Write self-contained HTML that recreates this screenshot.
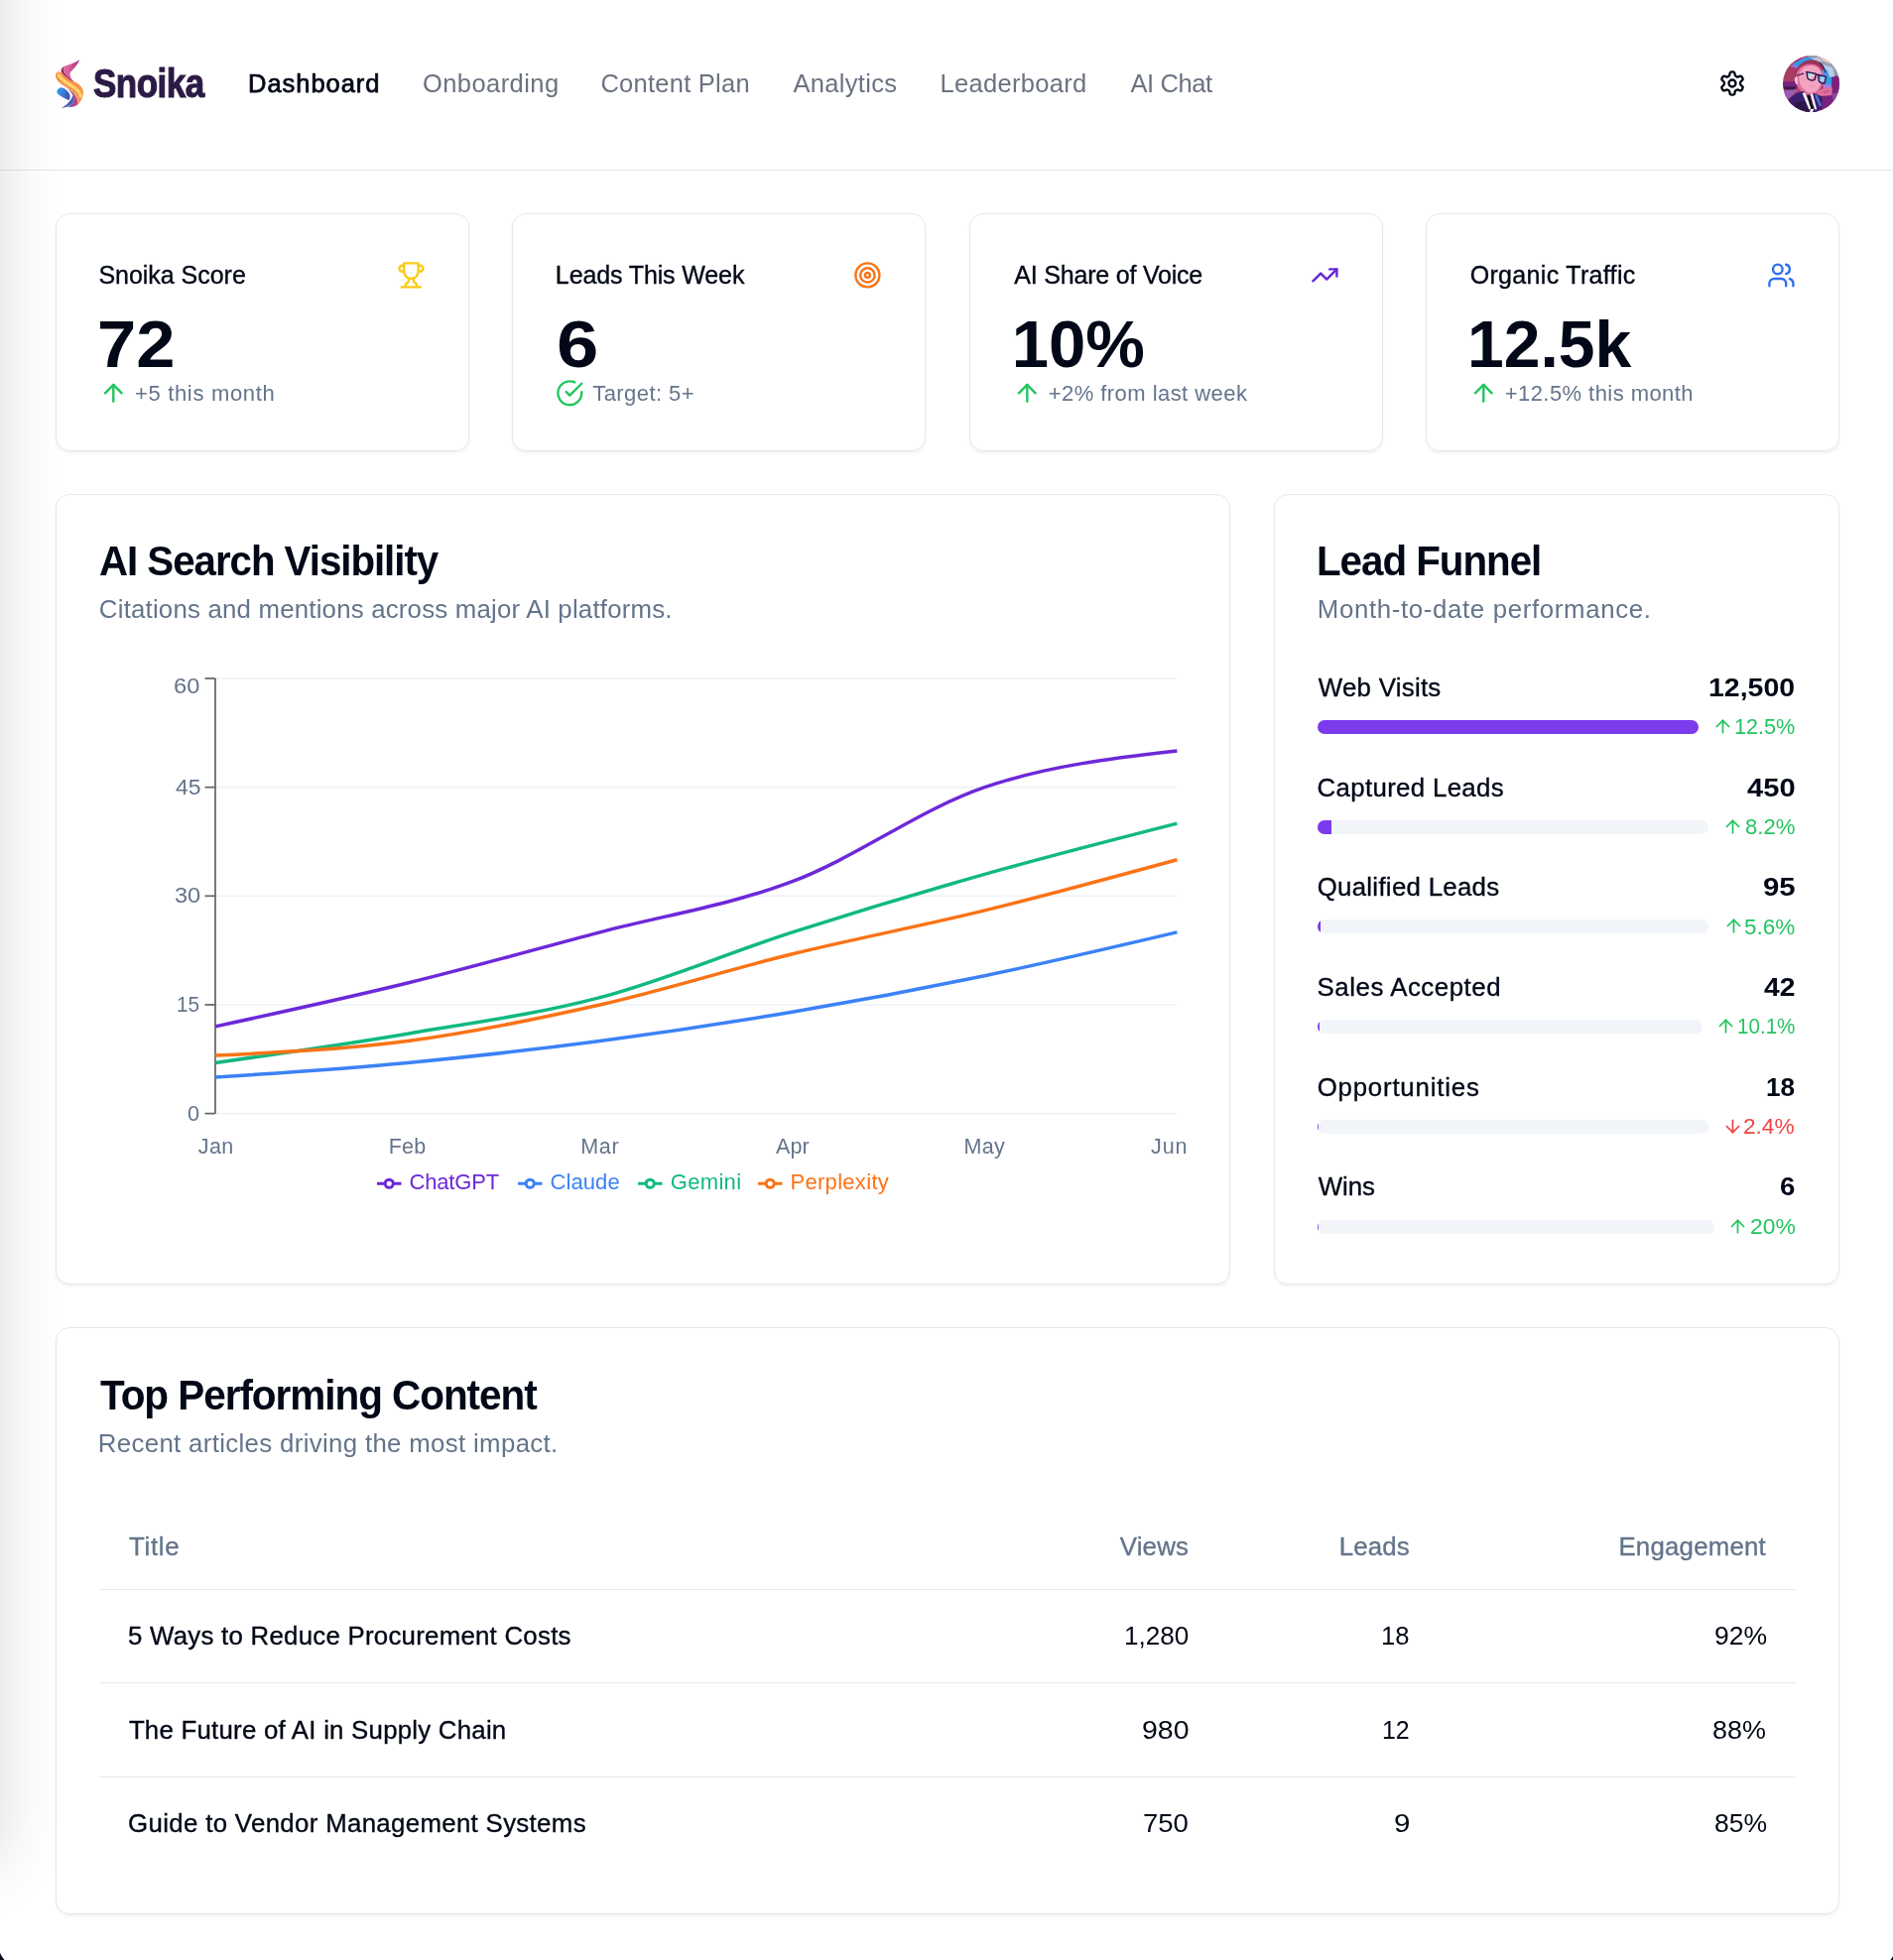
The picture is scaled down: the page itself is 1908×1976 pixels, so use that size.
<!DOCTYPE html>
<html lang="en"><head><meta charset="utf-8"><title>Snoika Dashboard</title>
<style>
*{box-sizing:border-box;margin:0;padding:0}
html,body{width:1908px;height:1976px;overflow:hidden;background:#fff}
body{position:relative;font-family:"Liberation Sans",sans-serif;color:#020817;-webkit-font-smoothing:antialiased}
.t{position:absolute;white-space:nowrap;line-height:1;display:block}
.ic{position:absolute;display:block;overflow:visible}
.abs{position:absolute}
.edge{position:absolute;left:-80px;top:-120px;width:80px;height:1998px;box-shadow:0 0 64px rgba(0,0,0,.145);z-index:5;pointer-events:none}
.corner{position:absolute;z-index:6;display:block}
header{position:absolute;left:0;top:0;width:1908px;height:172px;border-bottom:1px solid #e2e8f0;background:transparent;will-change:transform}
main{position:absolute;left:0;top:172px;width:1908px;height:1804px;will-change:transform}
.card{position:absolute;background:#fff;border:1px solid #e2e8f0;border-radius:14px;box-shadow:0 2px 3px rgba(0,0,0,.05)}
.bar{position:absolute;height:14px;border-radius:7px;background:#f1f5f9;overflow:hidden}
.bar i{position:absolute;left:0;top:0;height:14px;background:#7c3aed;display:block}
.hr{position:absolute;height:1px;background:#e2e8f0}
.avatar{position:absolute;border-radius:50%;overflow:hidden}
body.fit .card,body.fit header{border-color:transparent;box-shadow:none}
body.fit svg,body.fit .bar,body.fit .hr,body.fit .edge,body.fit .avatar,body.fit .corner{visibility:hidden}
</style></head><body>
<div class="edge"></div>
<svg class="corner" style="left:0;top:1966px" width="8" height="10" viewBox="0 0 8 10"><path d="M0,2.6C1.2,5.6 2.6,8 4.6,10L0,10Z" fill="#0a0e1c"/></svg><svg class="corner" style="left:1900px;top:1968px" width="8" height="8" viewBox="0 0 8 8"><path d="M8,3.8C7.4,5.6 6.6,6.9 5.4,8L8,8Z" fill="#0a0e1c"/></svg>
<header><svg class="ic" id="logo" style="left:46px;top:52px" width="60" height="64" viewBox="0 0 183.8 196">
<defs>
<linearGradient id="lgp" x1="0" y1="0" x2="1" y2="0"><stop offset="0" stop-color="#e677ab"/><stop offset=".45" stop-color="#d65c9a"/><stop offset="1" stop-color="#a8357a"/></linearGradient>
<linearGradient id="lgb" x1="0" y1="0" x2="1" y2="0.3"><stop offset="0" stop-color="#1fa4ee"/><stop offset=".45" stop-color="#3b84e0"/><stop offset="1" stop-color="#3f55b0"/></linearGradient>
<linearGradient id="lgm" x1="0" y1="0" x2="1" y2="0"><stop offset="0" stop-color="#7d52a6"/><stop offset="1" stop-color="#c2407f"/></linearGradient>
</defs>
<!-- orange ribbon -->
<path fill="#f8944b" d="M46,57C36,60 29,68 31,77C34,93 50,101 68,113C84,124 95,133 99,147C101,154 101,159 100,163C111,152 118,136 116,122C114,108 101,99 87,92C72,84 55,74 49,64C47,61 46,59 46,57Z"/>
<path fill="#fde3cf" d="M46,57C40,59 36,62 34,66C38,64 43,64 48,66C47,62 46,59 46,57Z"/>
<path fill="none" stroke="#fdd56e" stroke-width="10" stroke-linecap="round" d="M41,73C48,88 68,98 84,108C97,116 106,125 108,137"/>
<!-- magenta stripe + blue tail -->
<path fill="url(#lgm)" d="M67,113C82,123 93,133 98,147C100,155 100,160 100,163C92,169 82,172 68,172.5L79,164C88,156 89,146 84,135C80,127 74,120 67,113Z"/>
<path fill="#4460b8" d="M84,135C89,146 88,156 79,164C71,170 60,173 49,174.5C60,168 71,159 78,148C81,143 83,139 84,135Z"/>
<!-- pink flame -->
<path fill="url(#lgp)" d="M105,25C99,40 88,52 76,64C73,72 78,84 88,94C74,86 56,75 49,64C46,57 49,50 56,46C70,40 90,36 105,25Z"/>
<path fill="#7a2350" d="M56,46C50,50 47,57 50,64C57,75 74,86 88,94C74,84 58,72 55,62C53,56 54,50 56,46Z"/>
<!-- blue blob -->
<path fill="url(#lgb)" d="M48,111C58,112 69,121 74,132C77,139 75,146 72,150C60,146 44,138 36,129C32,122 38,113 48,111Z"/>
</svg>
<span class="t" id="logo_t" style="left:93.91px;top:63.94px;font-size:40px;color:#2b1a45;font-weight:700;letter-spacing:-0.600px;-webkit-text-stroke:1.1px #2b1a45;transform:scaleX(0.875);transform-origin:0 0;">Snoika</span><nav><span class="t" id="nav1" style="left:250.09px;top:72.01px;font-size:25.5px;color:#020817;letter-spacing:0.955px;-webkit-text-stroke:0.75px #020817;">Dashboard</span><span class="t" id="nav2" style="left:425.91px;top:72.01px;font-size:25.5px;color:#6b7280;letter-spacing:0.441px;">Onboarding</span><span class="t" id="nav3" style="left:605.46px;top:72.01px;font-size:25.5px;color:#6b7280;letter-spacing:0.247px;">Content Plan</span><span class="t" id="nav4" style="left:799.43px;top:72.01px;font-size:25.5px;color:#6b7280;letter-spacing:0.328px;">Analytics</span><span class="t" id="nav5" style="left:947.38px;top:72.01px;font-size:25.5px;color:#6b7280;letter-spacing:0.323px;">Leaderboard</span><span class="t" id="nav6" style="left:1139.43px;top:72.01px;font-size:25.5px;color:#6b7280;letter-spacing:-0.389px;">AI Chat</span></nav><svg class="ic" style="left:1732.00px;top:70.00px" width="28" height="28" viewBox="0 0 24 24" fill="none" stroke="#020817" stroke-width="2" stroke-linecap="round" stroke-linejoin="round"><path d="M12.22 2h-.44a2 2 0 0 0-2 2v.18a2 2 0 0 1-1 1.73l-.43.25a2 2 0 0 1-2 0l-.15-.08a2 2 0 0 0-2.73.73l-.22.38a2 2 0 0 0 .73 2.73l.15.1a2 2 0 0 1 1 1.72v.51a2 2 0 0 1-1 1.74l-.15.09a2 2 0 0 0-.73 2.73l.22.38a2 2 0 0 0 2.73.73l.15-.08a2 2 0 0 1 2 0l.43.25a2 2 0 0 1 1 1.73V20a2 2 0 0 0 2 2h.44a2 2 0 0 0 2-2v-.18a2 2 0 0 1 1-1.73l.43-.25a2 2 0 0 1 2 0l.15.08a2 2 0 0 0 2.73-.73l.22-.39a2 2 0 0 0-.73-2.73l-.15-.08a2 2 0 0 1-1-1.74v-.5a2 2 0 0 1 1-1.74l.15-.09a2 2 0 0 0 .73-2.73l-.22-.38a2 2 0 0 0-2.73-.73l-.15.08a2 2 0 0 1-2 0l-.43-.25a2 2 0 0 1-1-1.73V4a2 2 0 0 0-2-2z"/><circle cx="12" cy="12" r="3"/></svg><svg class="ic" id="avatar" style="left:1797px;top:56px" width="57" height="57" viewBox="0 0 160 160">
<defs><clipPath id="avc"><circle cx="80" cy="80" r="80"/></clipPath>
<linearGradient id="avl" x1="0" y1="0" x2="1" y2="1"><stop offset="0" stop-color="#3b8fe8"/><stop offset=".35" stop-color="#bfe9e0"/><stop offset=".55" stop-color="#f3c3cf"/><stop offset=".8" stop-color="#e58bb5"/><stop offset="1" stop-color="#c9e8f0"/></linearGradient>
<linearGradient id="avr" x1="0" y1="0" x2="1" y2="1"><stop offset="0" stop-color="#2f7fe6"/><stop offset=".5" stop-color="#9fd4f5"/><stop offset="1" stop-color="#e889b8"/></linearGradient>
</defs>
<g clip-path="url(#avc)">
<rect width="160" height="160" fill="#a83c64"/>
<!-- sky -->
<path fill="#8f74d8" d="M20,30L60,5L80,10L50,40Z"/>
<path fill="#2c9be6" d="M30,22L70,4L100,8L96,22L60,20L40,32Z"/>
<path fill="#949fb6" d="M62,0L150,0L160,62L120,40L96,16Z"/>
<path fill="#b9c6d8" d="M82,8L104,4L112,18L90,22Z"/>
<path fill="#f8cdb8" d="M104,2L128,10L134,24L112,14Z"/>
<path fill="#b4cfe8" d="M110,24L140,34L152,76L118,60Z"/>
<path fill="#4f8fec" d="M104,28L126,42L140,84L112,74L104,50Z"/>
<path fill="#2fa0e4" d="M118,60L140,62L138,88L120,84Z"/>
<path fill="#a87be0" d="M112,78L140,84L140,104L116,100Z"/>
<!-- right purple blocks -->
<path fill="#7a237e" d="M138,60L160,58L160,112L138,108Z"/>
<path fill="#7a237e" d="M100,112L152,112L146,150L104,160Z"/>
<path fill="#8b4aa0" d="M140,108L160,104L152,132L142,128Z"/>
<!-- left blocks -->
<path fill="#7a237e" d="M0,74L42,72L46,92L0,92Z"/>
<path fill="#3a1a4c" d="M4,88L36,88L36,97L4,97Z"/>
<path fill="#9b5cb4" d="M2,98L44,96L30,124L6,122Z"/>
<path fill="#a83c64" d="M14,124L40,100L50,104L22,140Z"/>
<!-- hair -->
<path fill="#9a3458" d="M34,62C34,30 58,12 82,12C100,12 112,22 118,36L108,46C100,32 88,24 74,26C56,30 44,46 42,66Z"/>
<!-- face -->
<path fill="#e06f9f" d="M36,66C36,40 56,24 78,24C100,24 114,40 114,62C114,90 100,110 80,112C58,112 36,94 36,66Z"/>
<path fill="#f2a3c0" d="M46,60C48,40 62,28 80,28C98,28 110,42 110,62C110,86 98,104 80,106C64,104 44,88 46,60Z"/>
<path fill="#f7c0d2" d="M33,66C33,60 40,58 42,64L42,82C36,82 33,74 33,66Z"/>
<!-- hand / ear right -->
<path fill="#e06f9f" d="M96,104C110,92 126,88 140,92L138,112L100,116Z"/>
<path fill="#c8568a" d="M112,104L128,96L132,100L118,108Z"/>
<!-- suit -->
<path fill="#3b2072" d="M14,128C30,106 52,100 60,102L96,160L30,160Z"/>
<path fill="#2c1848" d="M30,134L60,128L86,160L40,160Z"/>
<path fill="#3b2072" d="M84,106L112,116L110,150L96,160L86,160Z"/>
<path fill="#4f78d8" d="M90,112L96,110L110,142L104,144Z"/>
<!-- shirt + tie -->
<path fill="#ffffff" d="M55,106L63,105L81,150L74,153Z"/>
<path fill="#15101c" d="M69,113L77,110L88,152L80,154Z"/>
<path fill="#c9a6e8" d="M77,110L81,108L91,142L87,144Z"/>
<path fill="#ffffff" d="M79,108L84,108L96,152L90,152Z"/>
<path fill="#ffffff" d="M78,152L88,150L84,160L76,160Z"/>
<!-- glasses -->
<path fill="none" stroke="#2a1850" stroke-width="3.2" stroke-linecap="round" d="M40,56C46,56 52,52 58,51"/>
<path fill="url(#avl)" stroke="#2a1850" stroke-width="4" stroke-linejoin="round" d="M67,46L94,52L90,68C84,72 74,70 70,64Z"/>
<path fill="url(#avr)" stroke="#2a1850" stroke-width="4" stroke-linejoin="round" d="M100,54L122,60L118,78C112,80 104,76 102,72Z"/>
<path fill="none" stroke="#2a1850" stroke-width="3.5" d="M94,53L100,55"/>
<path fill="none" stroke="#2a1850" stroke-width="3" d="M104,20C112,26 118,36 120,48"/>
<!-- mouth dots -->
<rect x="76" y="84" width="5" height="2.5" fill="#e06f9f"/><rect x="86" y="86" width="3" height="2.5" fill="#e06f9f"/>
</g></svg>
</header>
<main style="top:0;height:1976px;pointer-events:none"><article class="card" id="c1" style="left:56px;top:215px;width:417px;height:240px"><span class="t" id="c1_t" style="left:42.46px;top:48.94px;font-size:25.0px;color:#020817;letter-spacing:-0.031px;-webkit-text-stroke:0.35px #020817;">Snoika Score</span><svg class="ic" style="left:343.10px;top:46.80px" width="28.8" height="28.8" viewBox="0 0 24 24" fill="none" stroke="#facc15" stroke-width="2" stroke-linecap="round" stroke-linejoin="round"><path d="M6 9H4.5a2.5 2.5 0 0 1 0-5H6"/><path d="M18 9h1.5a2.5 2.5 0 0 0 0-5H18"/><path d="M4 22h16"/><path d="M10 14.66V17c0 .55-.47.98-.97 1.21C7.85 18.75 7 20.24 7 22"/><path d="M14 14.66V17c0 .55.47.98.97 1.21C16.15 18.75 17 20.24 17 22"/><path d="M18 2H6v7a6 6 0 0 0 12 0V2Z"/></svg><span class="t" id="c1_v" style="left:41.36px;top:97.48px;font-size:67px;color:#020817;font-weight:700;transform:scaleX(1.053);transform-origin:0 0;">72</span><svg class="ic" style="left:43.10px;top:165.80px" width="28.6" height="28.6" viewBox="0 0 24 24" fill="none" stroke="#22c55e" stroke-width="2" stroke-linecap="round" stroke-linejoin="round"><path d="m5 12 7-7 7 7"/><path d="M12 19V5"/></svg><span class="t" id="c1_d" style="left:78.93px;top:170.38px;font-size:22px;color:#64748b;letter-spacing:0.678px;">+5 this month</span></article>
<article class="card" id="c2" style="left:516px;top:215px;width:417px;height:240px"><span class="t" id="c2_t" style="left:42.86px;top:48.94px;font-size:25.0px;color:#020817;letter-spacing:-0.121px;-webkit-text-stroke:0.35px #020817;">Leads This Week</span><svg class="ic" style="left:343.10px;top:46.80px" width="28.8" height="28.8" viewBox="0 0 24 24" fill="none" stroke="#f97316" stroke-width="2" stroke-linecap="round" stroke-linejoin="round"><circle cx="12" cy="12" r="10"/><circle cx="12" cy="12" r="6"/><circle cx="12" cy="12" r="2"/></svg><span class="t" id="c2_v" style="left:43.65px;top:97.48px;font-size:67px;color:#020817;font-weight:700;transform:scaleX(1.135);transform-origin:0 0;">6</span><svg class="ic" style="left:43.10px;top:165.80px" width="28.6" height="28.6" viewBox="0 0 24 24" fill="none" stroke="#22c55e" stroke-width="2" stroke-linecap="round" stroke-linejoin="round"><path d="M22 11.08V12a10 10 0 1 1-5.93-9.14"/><polyline points="22 4 12 14.01 9 11.01"/></svg><span class="t" id="c2_d" style="left:80.23px;top:170.38px;font-size:22px;color:#64748b;letter-spacing:0.432px;">Target: 5+</span></article>
<article class="card" id="c3" style="left:977px;top:215px;width:417px;height:240px"><span class="t" id="c3_t" style="left:44.33px;top:48.94px;font-size:25.0px;color:#020817;letter-spacing:-0.206px;-webkit-text-stroke:0.35px #020817;">AI Share of Voice</span><svg class="ic" style="left:343.10px;top:46.80px" width="28.8" height="28.8" viewBox="0 0 24 24" fill="none" stroke="#6525d9" stroke-width="2" stroke-linecap="round" stroke-linejoin="round"><polyline points="22 7 13.5 15.5 8.5 10.5 2 17"/><polyline points="16 7 22 7 22 13"/></svg><span class="t" id="c3_v" style="left:41.77px;top:97.48px;font-size:67px;color:#020817;font-weight:700;">10%</span><svg class="ic" style="left:43.10px;top:165.80px" width="28.6" height="28.6" viewBox="0 0 24 24" fill="none" stroke="#22c55e" stroke-width="2" stroke-linecap="round" stroke-linejoin="round"><path d="m5 12 7-7 7 7"/><path d="M12 19V5"/></svg><span class="t" id="c3_d" style="left:78.71px;top:170.38px;font-size:22px;color:#64748b;letter-spacing:0.451px;">+2% from last week</span></article>
<article class="card" id="c4" style="left:1437px;top:215px;width:417px;height:240px"><span class="t" id="c4_t" style="left:43.73px;top:48.94px;font-size:25.0px;color:#020817;letter-spacing:0.317px;-webkit-text-stroke:0.35px #020817;">Organic Traffic</span><svg class="ic" style="left:343.10px;top:46.80px" width="28.8" height="28.8" viewBox="0 0 24 24" fill="none" stroke="#2f6ff2" stroke-width="2" stroke-linecap="round" stroke-linejoin="round"><path d="M16 21v-2a4 4 0 0 0-4-4H6a4 4 0 0 0-4 4v2"/><circle cx="9" cy="7" r="4"/><path d="M22 21v-2a4 4 0 0 0-3-3.87"/><path d="M16 3.13a4 4 0 0 1 0 7.75"/></svg><span class="t" id="c4_v" style="left:41.02px;top:97.48px;font-size:67px;color:#020817;font-weight:700;transform:scaleX(0.986);transform-origin:0 0;">12.5k</span><svg class="ic" style="left:43.10px;top:165.80px" width="28.6" height="28.6" viewBox="0 0 24 24" fill="none" stroke="#22c55e" stroke-width="2" stroke-linecap="round" stroke-linejoin="round"><path d="m5 12 7-7 7 7"/><path d="M12 19V5"/></svg><span class="t" id="c4_d" style="left:78.71px;top:170.38px;font-size:22px;color:#64748b;letter-spacing:0.438px;">+12.5% this month</span></article>
<section class="card" id="chart" style="left:56px;top:498px;width:1184px;height:797px"><span class="t" id="ch_t" style="left:43.00px;top:45.17px;font-size:42.8px;color:#020817;font-weight:700;letter-spacing:-1.100px;transform:scaleX(0.941);transform-origin:0 0;">AI Search Visibility</span><span class="t" id="ch_s" style="left:42.87px;top:103.06px;font-size:25.8px;color:#64748b;letter-spacing:0.205px;">Citations and mentions across major AI platforms.</span><svg class="ic" style="left:-1px;top:-1px" width="1184" height="796" viewBox="56 498 1184 796" font-family="Liberation Sans, sans-serif"><line x1="217.0" x2="1186.4" y1="1122.60" y2="1122.60" stroke="#eef2f7" stroke-width="1.6"/><line x1="217.0" x2="1186.4" y1="1012.95" y2="1012.95" stroke="#eef2f7" stroke-width="1.6"/><line x1="217.0" x2="1186.4" y1="903.30" y2="903.30" stroke="#eef2f7" stroke-width="1.6"/><line x1="217.0" x2="1186.4" y1="793.65" y2="793.65" stroke="#eef2f7" stroke-width="1.6"/><line x1="217.0" x2="1186.4" y1="684.00" y2="684.00" stroke="#eef2f7" stroke-width="1.6"/><line x1="217.0" x2="217.0" y1="684.00" y2="1122.60" stroke="#666" stroke-width="1.75"/><line x1="206.5" x2="217.0" y1="1122.60" y2="1122.60" stroke="#666" stroke-width="1.75"/><line x1="206.5" x2="217.0" y1="1012.95" y2="1012.95" stroke="#666" stroke-width="1.75"/><line x1="206.5" x2="217.0" y1="903.30" y2="903.30" stroke="#666" stroke-width="1.75"/><line x1="206.5" x2="217.0" y1="793.65" y2="793.65" stroke="#666" stroke-width="1.75"/><line x1="206.5" x2="217.0" y1="684.00" y2="684.00" stroke="#666" stroke-width="1.75"/><path d="M217.00,1034.88C281.63,1020.87,346.25,1006.86,410.88,991.02C475.51,975.18,540.13,956.91,604.76,939.85C669.39,922.79,734.01,913.05,798.64,888.68C863.27,864.31,927.89,815.58,992.52,793.65C1057.15,771.72,1121.77,764.41,1186.40,757.10" fill="none" stroke="#6d28d9" stroke-width="3.5"/><path d="M217.00,1086.05C281.63,1081.79,346.25,1077.52,410.88,1071.43C475.51,1065.34,540.13,1058.03,604.76,1049.50C669.39,1040.97,734.01,1031.22,798.64,1020.26C863.27,1009.29,927.89,997.11,992.52,983.71C1057.15,970.31,1121.77,955.08,1186.40,939.85" fill="none" stroke="#3b82f6" stroke-width="3.5"/><path d="M217.00,1071.43C281.63,1062.29,346.25,1053.15,410.88,1042.19C475.51,1031.22,540.13,1022.70,604.76,1005.64C669.39,988.58,734.01,960.56,798.64,939.85C863.27,919.14,927.89,899.64,992.52,881.37C1057.15,863.09,1121.77,846.65,1186.40,830.20" fill="none" stroke="#10b981" stroke-width="3.5"/><path d="M217.00,1064.12C281.63,1061.07,346.25,1058.03,410.88,1049.50C475.51,1040.97,540.13,1027.57,604.76,1012.95C669.39,998.33,734.01,977.62,798.64,961.78C863.27,945.94,927.89,933.76,992.52,917.92C1057.15,902.08,1121.77,884.42,1186.40,866.75" fill="none" stroke="#f97316" stroke-width="3.5"/></svg><span class="t" id="yt0" style="left:132.27px;top:613.60px;font-size:21.5px;color:#64748b;transform:scaleX(1.009);transform-origin:0 0;">0</span><span class="t" id="yt15" style="left:121.30px;top:503.70px;font-size:21.5px;color:#64748b;transform:scaleX(0.967);transform-origin:0 0;">15</span><span class="t" id="yt30" style="left:118.77px;top:394.00px;font-size:21.5px;color:#64748b;transform:scaleX(1.096);transform-origin:0 0;">30</span><span class="t" id="yt45" style="left:119.57px;top:284.60px;font-size:21.5px;color:#64748b;transform:scaleX(1.068);transform-origin:0 0;">45</span><span class="t" id="yt60" style="left:118.09px;top:183.10px;font-size:21.5px;color:#64748b;transform:scaleX(1.099);transform-origin:0 0;">60</span><span class="t" id="xt0" style="left:142.83px;top:646.80px;font-size:21.5px;color:#64748b;letter-spacing:0.323px;">Jan</span><span class="t" id="xt1" style="left:334.64px;top:646.80px;font-size:21.5px;color:#64748b;letter-spacing:0.215px;">Feb</span><span class="t" id="xt2" style="left:528.18px;top:646.80px;font-size:21.5px;color:#64748b;letter-spacing:0.718px;">Mar</span><span class="t" id="xt3" style="left:724.91px;top:646.80px;font-size:21.5px;color:#64748b;letter-spacing:0.144px;">Apr</span><span class="t" id="xt4" style="left:914.38px;top:646.80px;font-size:21.5px;color:#64748b;letter-spacing:0.430px;">May</span><span class="t" id="xt5" style="left:1103.10px;top:646.80px;font-size:21.5px;color:#64748b;letter-spacing:0.820px;">Jun</span><svg class="ic" style="left:323.10px;top:681.95px" width="24.5" height="24.5" viewBox="0 0 32 32"><path stroke-width="4" fill="none" stroke="#6d28d9" d="M0,16h10.666666666666666A5.333333333333333,5.333333333333333,0,1,1,21.333333333333332,16H32M21.333333333333332,16A5.333333333333333,5.333333333333333,0,1,1,10.666666666666666,16"/></svg><span class="t" id="lg1" style="left:355.50px;top:682.38px;font-size:22px;color:#6d28d9;letter-spacing:-0.170px;">ChatGPT</span><svg class="ic" style="left:465.10px;top:681.95px" width="24.5" height="24.5" viewBox="0 0 32 32"><path stroke-width="4" fill="none" stroke="#3b82f6" d="M0,16h10.666666666666666A5.333333333333333,5.333333333333333,0,1,1,21.333333333333332,16H32M21.333333333333332,16A5.333333333333333,5.333333333333333,0,1,1,10.666666666666666,16"/></svg><span class="t" id="lg2" style="left:497.54px;top:682.38px;font-size:22px;color:#3b82f6;letter-spacing:0.078px;">Claude</span><svg class="ic" style="left:586.10px;top:681.95px" width="24.5" height="24.5" viewBox="0 0 32 32"><path stroke-width="4" fill="none" stroke="#10b981" d="M0,16h10.666666666666666A5.333333333333333,5.333333333333333,0,1,1,21.333333333333332,16H32M21.333333333333332,16A5.333333333333333,5.333333333333333,0,1,1,10.666666666666666,16"/></svg><span class="t" id="lg3" style="left:618.78px;top:682.38px;font-size:22px;color:#10b981;letter-spacing:0.320px;">Gemini</span><svg class="ic" style="left:707.40px;top:681.95px" width="24.5" height="24.5" viewBox="0 0 32 32"><path stroke-width="4" fill="none" stroke="#f97316" d="M0,16h10.666666666666666A5.333333333333333,5.333333333333333,0,1,1,21.333333333333332,16H32M21.333333333333332,16A5.333333333333333,5.333333333333333,0,1,1,10.666666666666666,16"/></svg><span class="t" id="lg4" style="left:739.43px;top:682.38px;font-size:22px;color:#f97316;letter-spacing:0.309px;">Perplexity</span></section>
<section class="card" id="funnel" style="left:1284px;top:498px;width:570px;height:797px"><span class="t" id="fn_t" style="left:42.30px;top:45.17px;font-size:42.8px;color:#020817;font-weight:700;letter-spacing:-1.100px;transform:scaleX(0.943);transform-origin:0 0;">Lead Funnel</span><span class="t" id="fn_s" style="left:42.80px;top:103.06px;font-size:25.8px;color:#64748b;letter-spacing:0.652px;">Month-to-date performance.</span><div class="row"><span class="t" id="f0_l" style="left:43.76px;top:181.96px;font-size:25.8px;color:#020817;letter-spacing:0.290px;-webkit-text-stroke:0.35px #020817;">Web Visits</span><span class="t" id="f0_v" style="left:437.47px;top:181.96px;font-size:25.8px;color:#020817;font-weight:700;transform:scaleX(1.104);transform-origin:0 0;">12,500</span><div class="bar" style="left:43px;top:226.90px;width:383.90px"><i style="width:384px"></i></div><svg class="ic" style="left:441.00px;top:222.80px" width="21" height="21" viewBox="0 0 24 24" fill="none" stroke="#22c55e" stroke-width="2" stroke-linecap="round" stroke-linejoin="round"><path d="m5 12 7-7 7 7"/><path d="M12 19V5"/></svg><span class="t" id="f0_d" style="left:462.94px;top:223.48px;font-size:22px;color:#22c55e;transform:scaleX(0.982);transform-origin:0 0;">12.5%</span></div><div class="row"><span class="t" id="f1_l" style="left:42.59px;top:282.68px;font-size:25.8px;color:#020817;letter-spacing:0.343px;-webkit-text-stroke:0.35px #020817;">Captured Leads</span><span class="t" id="f1_v" style="left:475.98px;top:282.68px;font-size:25.8px;color:#020817;font-weight:700;transform:scaleX(1.129);transform-origin:0 0;">450</span><div class="bar" style="left:43px;top:327.65px;width:393.80px"><i style="width:14.2px"></i></div><svg class="ic" style="left:451.40px;top:323.55px" width="21" height="21" viewBox="0 0 24 24" fill="none" stroke="#22c55e" stroke-width="2" stroke-linecap="round" stroke-linejoin="round"><path d="m5 12 7-7 7 7"/><path d="M12 19V5"/></svg><span class="t" id="f1_d" style="left:474.00px;top:324.20px;font-size:22px;color:#22c55e;transform:scaleX(1.005);transform-origin:0 0;">8.2%</span></div><div class="row"><span class="t" id="f2_l" style="left:42.70px;top:383.40px;font-size:25.8px;color:#020817;letter-spacing:0.298px;-webkit-text-stroke:0.35px #020817;">Qualified Leads</span><span class="t" id="f2_v" style="left:491.68px;top:383.40px;font-size:25.8px;color:#020817;font-weight:700;transform:scaleX(1.139);transform-origin:0 0;">95</span><div class="bar" style="left:43px;top:428.40px;width:394.00px"><i style="width:3px"></i></div><svg class="ic" style="left:451.70px;top:424.30px" width="21" height="21" viewBox="0 0 24 24" fill="none" stroke="#22c55e" stroke-width="2" stroke-linecap="round" stroke-linejoin="round"><path d="m5 12 7-7 7 7"/><path d="M12 19V5"/></svg><span class="t" id="f2_d" style="left:472.70px;top:424.92px;font-size:22px;color:#22c55e;transform:scaleX(1.023);transform-origin:0 0;">5.6%</span></div><div class="row"><span class="t" id="f3_l" style="left:42.60px;top:484.12px;font-size:25.8px;color:#020817;letter-spacing:0.546px;-webkit-text-stroke:0.35px #020817;">Sales Accepted</span><span class="t" id="f3_v" style="left:493.02px;top:484.12px;font-size:25.8px;color:#020817;font-weight:700;transform:scaleX(1.096);transform-origin:0 0;">42</span><div class="bar" style="left:43px;top:529.15px;width:388.10px"><i style="width:1.6px"></i></div><svg class="ic" style="left:444.20px;top:525.05px" width="21" height="21" viewBox="0 0 24 24" fill="none" stroke="#22c55e" stroke-width="2" stroke-linecap="round" stroke-linejoin="round"><path d="m5 12 7-7 7 7"/><path d="M12 19V5"/></svg><span class="t" id="f3_d" style="left:465.89px;top:525.04px;font-size:22px;color:#22c55e;transform:scaleX(0.937);transform-origin:0 0;">10.1%</span></div><div class="row"><span class="t" id="f4_l" style="left:42.66px;top:584.84px;font-size:25.8px;color:#020817;letter-spacing:0.808px;-webkit-text-stroke:0.35px #020817;">Opportunities</span><span class="t" id="f4_v" style="left:495.38px;top:584.84px;font-size:25.8px;color:#020817;font-weight:700;transform:scaleX(1.014);transform-origin:0 0;">18</span><div class="bar" style="left:43px;top:629.90px;width:394.00px"><i style="width:0.8px"></i></div><svg class="ic" style="left:450.70px;top:625.80px" width="21" height="21" viewBox="0 0 24 24" fill="none" stroke="#ef4444" stroke-width="2" stroke-linecap="round" stroke-linejoin="round"><path d="M12 5v14"/><path d="m19 12-7 7-7-7"/></svg><span class="t" id="f4_d" style="left:472.47px;top:626.36px;font-size:22px;color:#ef4444;transform:scaleX(1.028);transform-origin:0 0;">2.4%</span></div><div class="row"><span class="t" id="f5_l" style="left:43.76px;top:684.96px;font-size:25.8px;color:#020817;letter-spacing:-0.095px;-webkit-text-stroke:0.35px #020817;">Wins</span><span class="t" id="f5_v" style="left:509.05px;top:684.96px;font-size:25.8px;color:#020817;font-weight:700;transform:scaleX(1.067);transform-origin:0 0;">6</span><div class="bar" style="left:43px;top:730.65px;width:399.90px"><i style="width:0.4px"></i></div><svg class="ic" style="left:456.30px;top:726.55px" width="21" height="21" viewBox="0 0 24 24" fill="none" stroke="#22c55e" stroke-width="2" stroke-linecap="round" stroke-linejoin="round"><path d="m5 12 7-7 7 7"/><path d="M12 19V5"/></svg><span class="t" id="f5_d" style="left:479.11px;top:727.08px;font-size:22px;color:#22c55e;transform:scaleX(1.039);transform-origin:0 0;">20%</span></div></section>
<section class="card" id="tbl" style="left:56px;top:1338px;width:1798px;height:592px"><span class="t" id="tb_t" style="left:43.50px;top:46.17px;font-size:42.8px;color:#020817;font-weight:700;letter-spacing:-1.100px;transform:scaleX(0.946);transform-origin:0 0;">Top Performing Content</span><span class="t" id="tb_s" style="left:41.84px;top:104.16px;font-size:25.8px;color:#64748b;letter-spacing:0.339px;">Recent articles driving the most impact.</span><div class="table"><div class="tr"><span class="t" id="th1" style="left:72.88px;top:207.96px;font-size:25.8px;color:#64748b;letter-spacing:0.764px;-webkit-text-stroke:0.35px #64748b;">Title</span><span class="t" id="th2" style="left:1071.68px;top:207.96px;font-size:25.8px;color:#64748b;letter-spacing:0.213px;-webkit-text-stroke:0.35px #64748b;">Views</span><span class="t" id="th3" style="left:1292.75px;top:207.96px;font-size:25.8px;color:#64748b;letter-spacing:0.160px;-webkit-text-stroke:0.35px #64748b;">Leads</span><span class="t" id="th4" style="left:1574.43px;top:207.96px;font-size:25.8px;color:#64748b;letter-spacing:0.230px;-webkit-text-stroke:0.35px #64748b;">Engagement</span></div><div class="hr" style="left:43px;top:263px;width:1710px"></div><div class="tr"><span class="t" id="r0_t" style="left:72.06px;top:298.16px;font-size:25.8px;color:#020817;letter-spacing:0.262px;-webkit-text-stroke:0.35px #020817;">5 Ways to Reduce Procurement Costs</span><span class="t" id="r0_v" style="left:1075.61px;top:298.16px;font-size:25.8px;color:#020817;transform:scaleX(1.011);transform-origin:0 0;">1,280</span><span class="t" id="r0_l" style="left:1335.00px;top:298.16px;font-size:25.8px;color:#020817;transform:scaleX(0.992);transform-origin:0 0;">18</span><span class="t" id="r0_e" style="left:1670.92px;top:298.16px;font-size:25.8px;color:#020817;transform:scaleX(1.028);transform-origin:0 0;">92%</span></div><div class="hr" style="left:43px;top:357.0px;width:1710px"></div><div class="tr"><span class="t" id="r1_t" style="left:72.89px;top:392.76px;font-size:25.8px;color:#020817;letter-spacing:0.242px;-webkit-text-stroke:0.35px #020817;">The Future of AI in Supply Chain</span><span class="t" id="r1_v" style="left:1093.57px;top:392.76px;font-size:25.8px;color:#020817;transform:scaleX(1.104);transform-origin:0 0;">980</span><span class="t" id="r1_l" style="left:1336.40px;top:392.76px;font-size:25.8px;color:#020817;transform:scaleX(0.965);transform-origin:0 0;">12</span><span class="t" id="r1_e" style="left:1669.42px;top:392.76px;font-size:25.8px;color:#020817;transform:scaleX(1.044);transform-origin:0 0;">88%</span></div><div class="hr" style="left:43px;top:451.6px;width:1710px"></div><div class="tr"><span class="t" id="r2_t" style="left:72.11px;top:487.36px;font-size:25.8px;color:#020817;letter-spacing:0.338px;-webkit-text-stroke:0.35px #020817;">Guide to Vendor Management Systems</span><span class="t" id="r2_v" style="left:1095.06px;top:487.36px;font-size:25.8px;color:#020817;transform:scaleX(1.067);transform-origin:0 0;">750</span><span class="t" id="r2_l" style="left:1347.95px;top:487.36px;font-size:25.8px;color:#020817;transform:scaleX(1.145);transform-origin:0 0;">9</span><span class="t" id="r2_e" style="left:1670.51px;top:487.36px;font-size:25.8px;color:#020817;transform:scaleX(1.027);transform-origin:0 0;">85%</span></div></div></section>
</main></body></html>
